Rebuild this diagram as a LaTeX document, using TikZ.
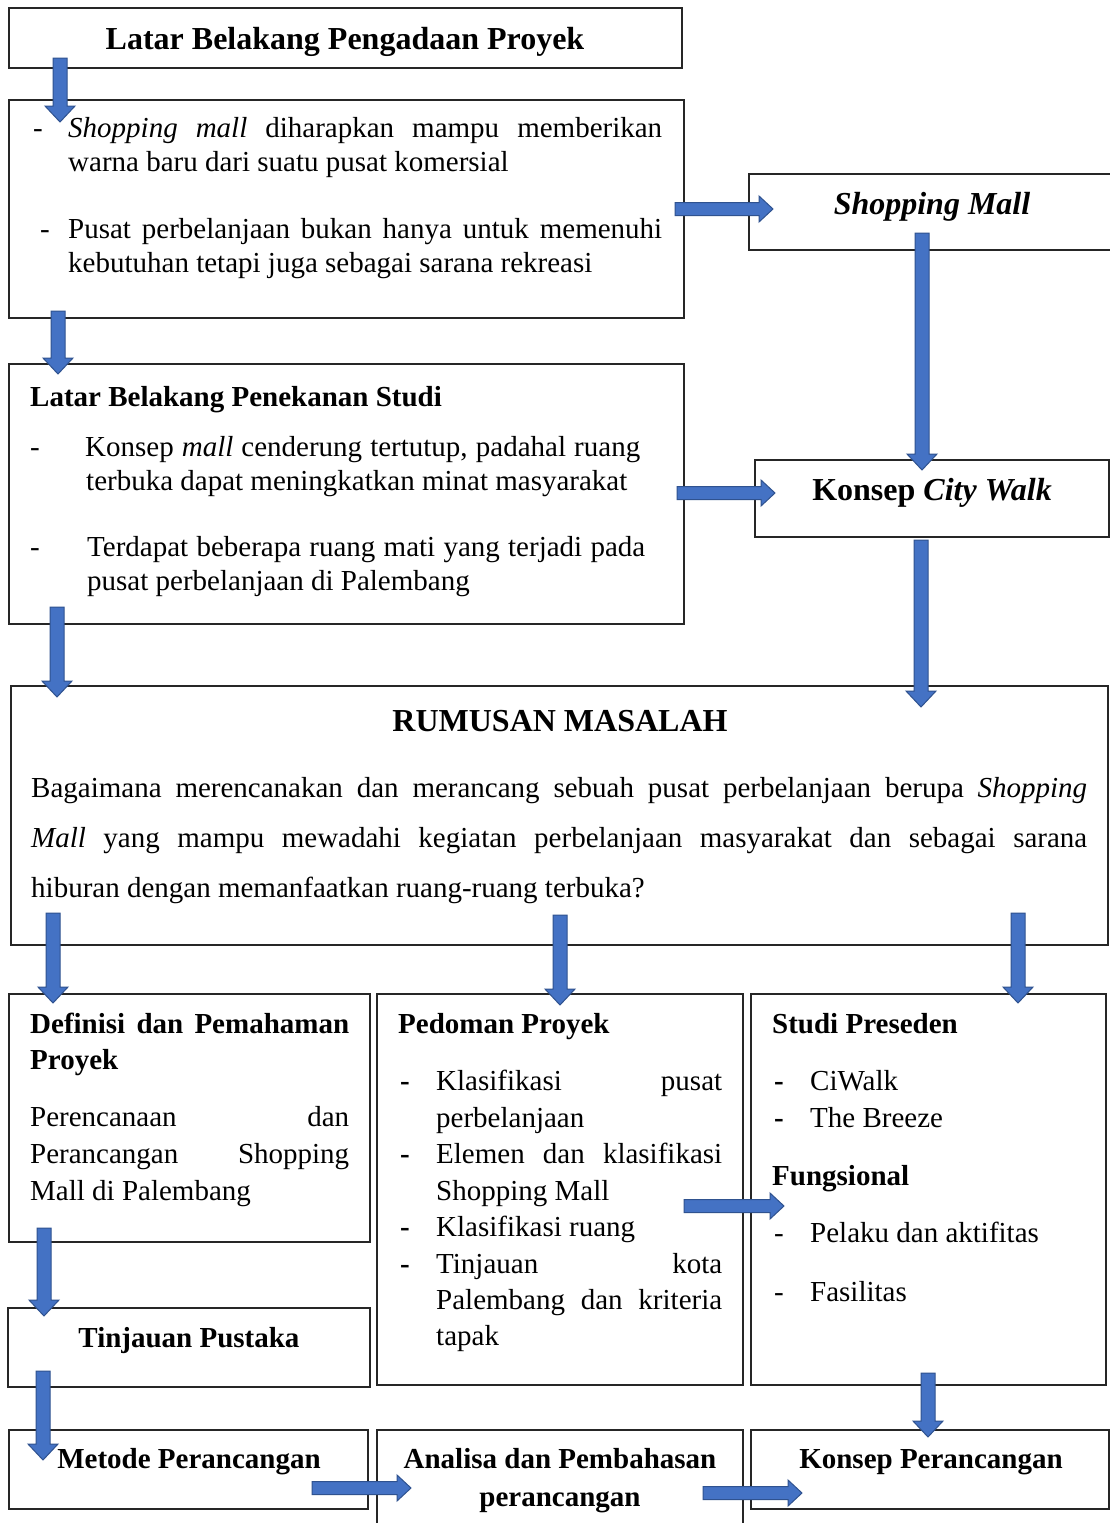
\documentclass[tikz,border=0pt]{standalone}
\usepackage{fontspec}
\setmainfont{Liberation Serif}
\definecolor{arrowblue}{HTML}{4472C4}
\definecolor{arrowedge}{HTML}{2F528F}
\newcommand\bodyfont{\fontsize{29}{34}\selectfont}
\newcommand\bigfont{\fontsize{32}{38}\selectfont\bfseries}
% block arrows: \varr{x}{y from}{y tip}, \harr{y}{x from}{x tip}
\newcommand\varr[3]{\filldraw[blk] (#1-7,#2) -- (#1+7,#2) -- (#1+7,#3-16) -- (#1+15,#3-16) -- (#1,#3) -- (#1-15,#3-16) -- (#1-7,#3-16) -- cycle;}
\newcommand\harr[3]{\filldraw[blk] (#2,#1-6.5) -- (#2,#1+6.5) -- (#3-14,#1+6.5) -- (#3-14,#1+13) -- (#3,#1) -- (#3-14,#1-13) -- (#3-14,#1-6.5) -- cycle;}
\newcommand\jline[2]{\makebox[#1pt][s]{#2}}
\tikzset{
  box/.style={draw=black!85, line width=1.6pt, inner sep=0pt},
  blk/.style={fill=arrowblue, draw=arrowedge, line width=1pt, line join=miter},
  txt/.style={inner sep=0pt, anchor=base west, font=\bodyfont},
  btxt/.style={inner sep=0pt, anchor=base west, font=\bodyfont\bfseries},
  ctr/.style={inner sep=0pt, anchor=base, font=\bodyfont\bfseries},
  title/.style={inner sep=0pt, anchor=base, font=\bigfont},
}
\begin{document}
\begin{tikzpicture}[x=1pt,y=-1pt]
\useasboundingbox (0,0) rectangle (1110,1523);
\clip (0,0) rectangle (1110,1523);
\fill[white] (0,0) rectangle (1110,1523);

% boxes
\node[box, minimum width=673pt, minimum height=60pt]  (A) at (345.5,38) {};
\node[box, minimum width=675pt, minimum height=218pt] (B) at (346.5,209) {};
\node[box, minimum width=371pt, minimum height=76pt]  (C) at (934.5,212) {};
\node[box, minimum width=675pt, minimum height=260pt] (D) at (346.5,494) {};
\node[box, minimum width=354pt, minimum height=77pt]  (E) at (932,498.5) {};
\node[box, minimum width=1097pt, minimum height=259pt] (F) at (559.5,815.5) {};
\node[box, minimum width=361pt, minimum height=248pt] (G) at (189.5,1118) {};
\node[box, minimum width=366pt, minimum height=391pt] (H) at (560,1189.5) {};
\node[box, minimum width=355pt, minimum height=391pt] (I) at (928.5,1189.5) {};
\node[box, minimum width=362pt, minimum height=79pt]  (J) at (189,1347.5) {};
\node[box, minimum width=359pt, minimum height=79pt]  (K) at (188.5,1469.5) {};
\node[box, minimum width=366pt, minimum height=110pt] (L) at (560,1485) {};
\node[box, minimum width=358pt, minimum height=79pt]  (M) at (930,1469.5) {};

% texts
\node[title] (tA) at (345,49) {Latar Belakang Pengadaan Proyek};

\node[txt] (b1d) at (33,137) {-};
\node[txt] (b1) at (68,137) {\jline{594}{\textit{Shopping mall} diharapkan mampu memberikan}};
\node[txt] (b2) at (68,171) {warna baru dari suatu pusat komersial};
\node[txt] (b3d) at (40,238) {-};
\node[txt] (b3) at (68,238) {\jline{594}{Pusat perbelanjaan bukan hanya untuk memenuhi}};
\node[txt] (b4) at (68,272) {kebutuhan tetapi juga sebagai sarana rekreasi};

\node[title] (tC) at (932,214) {\itshape Shopping Mall};

\node[btxt] (tD) at (30,406) {Latar Belakang Penekanan Studi};
\node[txt] (d1d) at (30,456) {-};
\node[txt] (d1) at (85,456) {\jline{555}{Konsep \textit{mall} cenderung tertutup, padahal ruang}};
\node[txt] (d2) at (86,490) {terbuka dapat meningkatkan minat masyarakat};
\node[txt] (d3d) at (30,556) {-};
\node[txt] (d3) at (87,556) {\jline{558}{Terdapat beberapa ruang mati yang terjadi pada}};
\node[txt] (d4) at (87,590) {pusat perbelanjaan di Palembang};

\node[title] (tE) at (932,500) {Konsep \textit{City Walk}};

\node[title] (tF) at (560,731) {RUMUSAN MASALAH};
\node[txt] (f1) at (31,797) {\jline{1056}{Bagaimana merencanakan dan merancang sebuah pusat perbelanjaan berupa \textit{Shopping}}};
\node[txt] (f2) at (31,847) {\jline{1056}{\textit{Mall} yang mampu mewadahi kegiatan perbelanjaan masyarakat dan sebagai sarana}};
\node[txt] (f3) at (31,897) {hiburan dengan memanfaatkan ruang-ruang terbuka?};

\node[btxt] (g1) at (30,1033) {\jline{319}{Definisi dan Pemahaman}};
\node[btxt] (g2) at (30,1069) {Proyek};
\node[txt] (g3) at (30,1126) {\jline{319}{Perencanaan dan}};
\node[txt] (g4) at (30,1163) {\jline{319}{Perancangan Shopping}};
\node[txt] (g5) at (30,1200) {Mall di Palembang};

\node[btxt] (h0) at (398,1033) {Pedoman Proyek};
\node[btxt] (h1d) at (400,1090) {-};
\node[txt] (h1) at (436,1090) {\jline{286}{Klasifikasi pusat}};
\node[txt] (h2) at (436,1127) {perbelanjaan};
\node[btxt] (h3d) at (400,1163) {-};
\node[txt] (h3) at (436,1163) {\jline{286}{Elemen dan klasifikasi}};
\node[txt] (h4) at (436,1200) {Shopping Mall};
\node[btxt] (h5d) at (400,1236) {-};
\node[txt] (h5) at (436,1236) {Klasifikasi ruang};
\node[btxt] (h6d) at (400,1273) {-};
\node[txt] (h6) at (436,1273) {\jline{286}{Tinjauan kota}};
\node[txt] (h7) at (436,1309) {\jline{286}{Palembang dan kriteria}};
\node[txt] (h8) at (436,1345) {tapak};

\node[btxt] (i0) at (772,1033) {Studi Preseden};
\node[btxt] (i1d) at (774,1090) {-};
\node[txt] (i1) at (810,1090) {CiWalk};
\node[btxt] (i2d) at (774,1127) {-};
\node[txt] (i2) at (810,1127) {The Breeze};
\node[btxt] (i3) at (772,1185) {Fungsional};
\node[txt] (i4d) at (774,1242) {-};
\node[txt] (i4) at (810,1242) {Pelaku dan aktifitas};
\node[txt] (i5d) at (774,1301) {-};
\node[txt] (i5) at (810,1301) {Fasilitas};

\node[ctr] (tJ) at (189,1347) {Tinjauan Pustaka};
\node[ctr] (tK) at (189,1468) {Metode Perancangan};
\node[ctr] (tL1) at (560,1468) {Analisa dan Pembahasan};
\node[ctr] (tL2) at (560,1506) {perancangan};
\node[ctr] (tM) at (931,1468) {Konsep Perancangan};

% block arrows
\varr{60}{58}{122}
\harr{209}{675}{773}
\varr{58}{311}{374}
\varr{922}{233}{470}
\harr{493}{677}{775}
\varr{57}{607}{697}
\varr{921}{540}{707}
\varr{53}{913}{1003}
\varr{560}{915}{1005}
\varr{1018}{913}{1003}
\harr{1206}{684}{784}
\varr{44}{1228}{1316}
\varr{43}{1371}{1460}
\harr{1488}{312}{411}
\varr{928}{1373}{1437}
\harr{1493}{703}{802}
\end{tikzpicture}
\end{document}
